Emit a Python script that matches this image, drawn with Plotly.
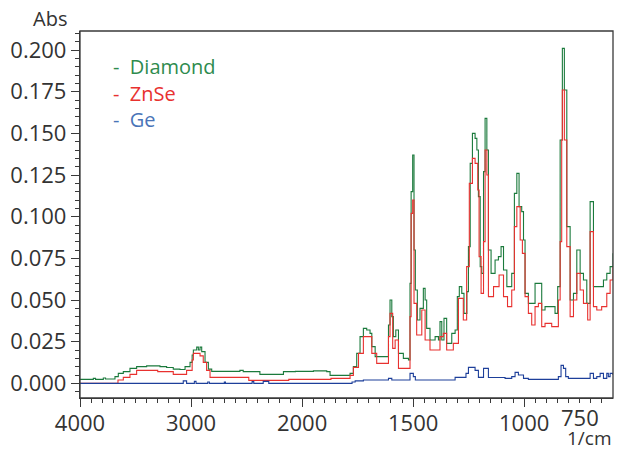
import plotly.graph_objects as go

# Wavenumber (1/cm) and absorbance for each ATR crystal
diamond_wn = [4000, 3880, 3860, 3790, 3770, 3685, 3655, 3610, 3550, 3490, 3400, 3280,
              3220, 3160, 3100, 3054, 3009, 2990, 2979, 2949, 2934, 2919, 2904, 2874,
              2844, 2814, 2620, 2560, 2530, 2380, 2200, 2168, 2060, 1949, 1889, 1874,
              1784, 1769, 1754, 1739, 1724, 1709, 1694, 1686, 1671, 1619, 1611, 1604,
              1596, 1589, 1578, 1566, 1544, 1521, 1514, 1509, 1502, 1496, 1490, 1481,
              1469, 1454, 1446, 1439, 1424, 1401, 1386, 1379, 1371, 1361, 1349, 1326,
              1311, 1301, 1292, 1281, 1271, 1258, 1251, 1243, 1233, 1221, 1213, 1206,
              1198, 1191, 1183, 1176, 1168, 1161, 1149, 1131, 1116, 1104, 1093, 1078,
              1063, 1056, 1044, 1033, 1023, 1011, 1003, 996, 981, 966, 951, 936,
              921, 906, 876, 861, 849, 838, 828, 819, 808, 793, 778, 763,
              748, 733, 718, 703, 696, 688, 666, 643, 628, 613, 600]
diamond_abs = [0.0024, 0.0030, 0.0024, 0.0032, 0.0026, 0.0040, 0.0060, 0.0070, 0.0090, 0.0100, 0.0105, 0.0100,
               0.0095, 0.0085, 0.0083, 0.0100, 0.0126, 0.0170, 0.0200, 0.0217, 0.0200, 0.0217, 0.0190, 0.0126,
               0.0085, 0.0072, 0.0072, 0.0078, 0.0070, 0.0054, 0.0054, 0.0070, 0.0072, 0.0075, 0.0070, 0.0048,
               0.0060, 0.0100, 0.0180, 0.0280, 0.0330, 0.0320, 0.0300, 0.0220, 0.0160, 0.0160, 0.0350, 0.0500,
               0.0400, 0.0280, 0.0320, 0.0180, 0.0150, 0.0140, 0.0600, 0.1150, 0.1370, 0.0800, 0.0560, 0.0380,
               0.0450, 0.0570, 0.0500, 0.0330, 0.0260, 0.0280, 0.0260, 0.0370, 0.0260, 0.0390, 0.0240, 0.0300,
               0.0320, 0.0520, 0.0580, 0.0540, 0.0420, 0.0550, 0.0820, 0.1320, 0.1500, 0.1470, 0.1400, 0.1120,
               0.0700, 0.0660, 0.1270, 0.1590, 0.1400, 0.0800, 0.0660, 0.0740, 0.0760, 0.0820, 0.0680, 0.0580,
               0.0580, 0.0660, 0.1140, 0.1260, 0.1060, 0.1030, 0.0860, 0.0540, 0.0480, 0.0480, 0.0600, 0.0600,
               0.0440, 0.0460, 0.0460, 0.0420, 0.0580, 0.1460, 0.2010, 0.1760, 0.0940, 0.0500, 0.0540, 0.0800,
               0.0660, 0.0620, 0.0480, 0.1090, 0.1090, 0.0580, 0.0580, 0.0620, 0.0660, 0.0700, 0.0780]

znse_wn = [4000, 3700, 3658, 3610, 3550, 3490, 3340, 3300, 3190, 3160, 3070, 3040,
           2990, 2979, 2949, 2919, 2890, 2860, 2829, 2495, 2480, 2135, 2120, 1887,
           1870, 1829, 1784, 1769, 1746, 1724, 1701, 1686, 1664, 1626, 1611, 1604,
           1592, 1581, 1566, 1529, 1514, 1509, 1502, 1496, 1484, 1461, 1446, 1424,
           1386, 1379, 1364, 1349, 1319, 1296, 1274, 1259, 1247, 1233, 1221, 1209,
           1203, 1194, 1183, 1176, 1168, 1161, 1138, 1113, 1093, 1075, 1056, 1044,
           1033, 1018, 1008, 996, 981, 966, 951, 936, 921, 906, 876, 853,
           846, 838, 831, 828, 819, 808, 793, 778, 763, 748, 733, 714,
           703, 696, 688, 673, 651, 628, 613, 600]
znse_abs = [0.0000, 0.0000, 0.0020, 0.0036, 0.0054, 0.0078, 0.0078, 0.0070, 0.0070, 0.0054, 0.0054, 0.0078,
            0.0140, 0.0180, 0.0180, 0.0165, 0.0126, 0.0078, 0.0036, 0.0036, 0.0018, 0.0018, 0.0024, 0.0024,
            0.0030, 0.0030, 0.0048, 0.0096, 0.0180, 0.0280, 0.0280, 0.0180, 0.0120, 0.0120, 0.0280, 0.0420,
            0.0210, 0.0260, 0.0090, 0.0090, 0.0400, 0.1020, 0.1100, 0.0480, 0.0290, 0.0440, 0.0260, 0.0200,
            0.0200, 0.0280, 0.0300, 0.0200, 0.0240, 0.0510, 0.0380, 0.0700, 0.1200, 0.1350, 0.1320, 0.1160,
            0.0760, 0.0540, 0.0850, 0.1400, 0.1250, 0.0520, 0.0580, 0.0650, 0.0520, 0.0460, 0.0560, 0.0940,
            0.1060, 0.0860, 0.0780, 0.0520, 0.0420, 0.0350, 0.0460, 0.0480, 0.0340, 0.0360, 0.0340, 0.0340,
            0.0500, 0.0850, 0.1460, 0.1760, 0.1460, 0.0820, 0.0400, 0.0500, 0.0660, 0.0560, 0.0480, 0.0380,
            0.0910, 0.0910, 0.0460, 0.0440, 0.0460, 0.0540, 0.0620, 0.0700]

ge_wn = [4000, 3075, 3070, 3040, 2970, 2955, 2850, 2835, 2700, 2690, 2450, 2435,
         2350, 2300, 1800, 1775, 1761, 1724, 1611, 1596, 1514, 1499, 1490, 1311,
         1262, 1251, 1236, 1221, 1206, 1183, 1173, 1161, 1086, 1056, 1041, 1026,
         1003, 981, 861, 846, 834, 823, 813, 801, 726, 703, 688, 673,
         658, 643, 628, 621, 613, 600]
ge_abs = [0.0000, 0.0000, 0.0015, 0.0000, 0.0012, 0.0000, 0.0008, 0.0000, 0.0008, 0.0000, 0.0010, 0.0000,
          0.0012, 0.0000, 0.0000, 0.0008, 0.0015, 0.0020, 0.0030, 0.0020, 0.0060, 0.0040, 0.0020, 0.0036,
          0.0060, 0.0096, 0.0096, 0.0078, 0.0036, 0.0090, 0.0090, 0.0035, 0.0030, 0.0040, 0.0066, 0.0050,
          0.0030, 0.0024, 0.0024, 0.0040, 0.0108, 0.0090, 0.0040, 0.0030, 0.0030, 0.0060, 0.0030, 0.0040,
          0.0060, 0.0030, 0.0060, 0.0040, 0.0060, 0.0050]

series = [
    ("Diamond", diamond_wn, diamond_abs, "#1b7a3c", "#2e8b4e"),
    ("ZnSe", znse_wn, znse_abs, "#e8312f", "#e8312f"),
    ("Ge", ge_wn, ge_abs, "#1d3f9a", "#4a74b8"),
]

# x axis ticks and labels (the 750 label is placed as an annotation below)
upper_ticks = [4000, 3500, 3000, 2500]
upper_text = ["4000", "", "3000", ""]
lower_ticks = [2000, 1750, 1500, 1250, 1000, 750]
lower_text = ["2000", "", "1500", "", "1000", ""]
end_label = 750
y_ticks = [0.0, 0.025, 0.05, 0.075, 0.1, 0.125, 0.15, 0.175, 0.2]

AXIS = "#3a3a3a"
TEXT = "#333333"
FONT = "Open Sans"
TICK_SIZE = 22

fig = go.Figure()
for xa in ("x", "x2"):
    for name, wn, ab, line_col, _ in series:
        fig.add_trace(go.Scatter(
            x=wn, y=ab, xaxis=xa, yaxis="y", mode="lines", name=name,
            line=dict(color=line_col, width=1.1, shape="hv"),
            showlegend=False, hoverinfo="skip"))

# 4000-2000 is drawn at half the scale of 2000-600
split = 2000 / (2000 + 2 * 1400)

common = dict(showline=True, linecolor=AXIS, linewidth=1.3, ticks="outside",
              ticklen=8, tickwidth=1.2, tickcolor=AXIS, showgrid=False,
              zeroline=False, ticklabeloverflow="allow", automargin=False,
              tickfont=dict(family=FONT, size=TICK_SIZE, color=TEXT))

fig.update_layout(
    width=625, height=450,
    margin=dict(l=80, r=12, t=31, b=52),
    paper_bgcolor="white", plot_bgcolor="white",
    xaxis=dict(domain=[0, split], range=[4000, 2000], anchor="y",
               tickmode="array", tickvals=upper_ticks, ticktext=upper_text,
               tickangle=0, ticklabelstandoff=-3,
               minor=dict(tickvals=list(range(3900, 2000, -100)), ticks="outside",
                          ticklen=4, tickwidth=1.2, tickcolor=AXIS),
               **common),
    xaxis2=dict(domain=[split, 1], range=[2000, 600], anchor="y",
                tickmode="array", tickvals=lower_ticks, ticktext=lower_text,
                tickangle=0, ticklabelstandoff=-3,
                minor=dict(tickvals=list(range(1950, 600, -50)), ticks="outside",
                           ticklen=4, tickwidth=1.2, tickcolor=AXIS),
                **common),
    yaxis=dict(range=[-0.0088, 0.2114], tickmode="array", tickvals=y_ticks,
               tickformat=".3f",
               minor=dict(dtick=0.005, tick0=0, ticks="outside", ticklen=4,
                          tickwidth=1.2, tickcolor=AXIS),
               **common),
    shapes=[dict(type="rect", xref="paper", yref="paper", x0=0, x1=1, y0=0, y1=1,
                 line=dict(color=AXIS, width=1.3), layer="above")],
)

fig.add_annotation(xref="x2", yref="paper", x=end_label, y=-0.051, text=str(end_label),
                   showarrow=False, xanchor="center", yanchor="middle", height=19,
                   valign="middle", borderpad=0,
                   font=dict(family=FONT, size=TICK_SIZE, color=TEXT))

fig.add_annotation(xref="paper", yref="paper", x=-0.056, y=1.035, text="Abs",
                   showarrow=False, xanchor="center", yanchor="middle",
                   font=dict(family=FONT, size=20, color=TEXT))
fig.add_annotation(xref="paper", yref="paper", x=1.0, y=-0.109, text="1/cm",
                   showarrow=False, xanchor="right", yanchor="middle", height=18,
                   valign="middle", borderpad=0,
                   font=dict(family=FONT, size=19, color=TEXT))

legend_y = [0.9046, 0.831, 0.7575]
for (name, _, _, _, text_col), ly in zip(series, legend_y):
    fig.add_annotation(xref="paper", yref="paper", x=0.058, y=ly, showarrow=False,
                       xanchor="left", yanchor="middle", text="-  " + name,
                       font=dict(family=FONT, size=20, color=text_col))

fig.write_html("out.html")
